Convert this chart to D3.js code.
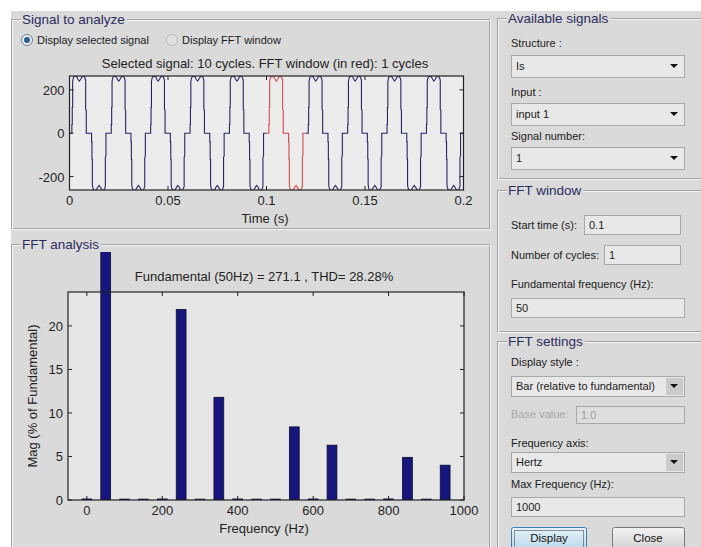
<!DOCTYPE html>
<meta charset="utf-8">
<script src="https://d3js.org/d3.v7.min.js"></script>
<style>
  body { margin: 0; background: #fff; }
  text { font-family: "Liberation Sans", Arial, sans-serif; }
</style>
<div id="gui"></div>
<script>

// ---- data ----
var timeTicks = [0, 0.05, 0.1, 0.15, 0.2]
var ampTicks = [-200, 0, 200]
var freqTicks = [0, 200, 400, 600, 800, 1000]
var magTicks = [0, 5, 10, 15, 20]

var nCycles = 10, period = 0.02
var winStart = 0.1, winCycles = 1

// one cycle of the signal: phase in ms and amplitude
var cyclePhase = [0, 1.2, 1.2, 1.4, 1.4, 1.6, 1.6, 1.8, 2.1, 2.6, 3.2, 3.8, 4.4, 5.0, 5.6, 6.2, 6.8, 7.3, 7.8, 8.1, 8.2, 8.2, 8.5, 8.5,
                  11.2, 11.2, 11.4, 11.4, 11.6, 11.6, 11.8, 12.1, 12.6, 13.2, 13.8, 14.4, 15.0, 15.6, 16.2, 16.8, 17.3, 17.8, 18.1, 18.2, 18.2, 18.5, 18.5, 20]
var cycleValue = [0, 0, 40, 40, 120, 120, 238, 250, 258, 263, 264, 258, 248, 241, 248, 258, 264, 263, 256, 248, 245, 110, 105, 0,
                  0, -40, -40, -120, -120, -238, -250, -258, -263, -264, -258, -248, -241, -248, -258, -264, -263, -256, -248, -245, -110, -105, 0, 0]

var harmFreq = [0, 50, 100, 150, 200, 250, 300, 350, 400, 450, 500, 550, 600, 650, 700, 750, 800, 850, 900, 950]
var harmMag = [0.12, 100, 0.1, 0.1, 0.12, 21.9, 0.1, 11.8, 0.12, 0.1, 0.1, 8.4, 0.12, 6.3, 0.1, 0.1, 0.12, 4.9, 0.1, 4.0]

var sigTitle = "Selected signal: 10 cycles. FFT window (in red): 1 cycles"
var fftTitle = "Fundamental (50Hz) = 271.1 , THD= 28.28%"

// ---- page ----
var svg = d3.select("#gui").append("svg")
    .attr("width", 701)
    .attr("height", 547)

var bg = "#dadada"
svg.append("rect").attr("x", 11).attr("y", 11).attr("width", 690).attr("height", 536).attr("fill", bg)

// etched panel with a title
function panel(x, y, w, h, title) {
  var g = svg.append("g")
  g.append("rect").attr("x", x + 0.5).attr("y", y + 0.5).attr("width", w).attr("height", h)
    .attr("fill", "none").attr("stroke", "#a3a3a3")
  g.append("rect").attr("x", x + 1.5).attr("y", y + 1.5).attr("width", w).attr("height", h)
    .attr("fill", "none").attr("stroke", "#f4f4f4")
  var t = g.append("text").attr("x", x + 11).attr("y", y + 5)
    .attr("font-size", 13.5).attr("fill", "#2c2c5c").text(title)
  var tw = t.node().getComputedTextLength()
  g.insert("rect", "text").attr("x", x + 10).attr("y", y - 3).attr("width", tw + 3).attr("height", 8).attr("fill", bg)
}

panel(11, 19, 478, 209, "Signal to analyze")
panel(11, 244, 478, 330, "FFT analysis")
panel(497, 18, 215, 160, "Available signals")
panel(497, 190, 215, 141, "FFT window")
panel(497, 341, 215, 230, "FFT settings")

// radio buttons
function radio(cx, cy, on, label) {
  svg.append("circle").attr("cx", cx).attr("cy", cy).attr("r", 5.5)
    .attr("fill", on ? "#e8eef4" : "#e2e2e2").attr("stroke", on ? "#6d7f93" : "#b8b8b8")
  if (on) svg.append("circle").attr("cx", cx).attr("cy", cy).attr("r", 3).attr("fill", "#2d5d8f")
  svg.append("text").attr("x", cx + 10).attr("y", cy + 4).attr("font-size", 11).attr("fill", "#1a1a1a").text(label)
}
radio(27, 40, true, "Display selected signal")
radio(172, 40, false, "Display FFT window")

// ---- signal plot ----
var m1 = {left: 69.5, right: 463.5, top: 76, bottom: 190}
var x1 = d3.scaleLinear().domain([0, 0.2]).range([m1.left, m1.right])
var y1 = d3.scaleLinear().domain([-262, 264]).range([m1.bottom, m1.top])

svg.append("rect").attr("x", m1.left).attr("y", m1.top)
  .attr("width", m1.right - m1.left).attr("height", m1.bottom - m1.top).attr("fill", "#ececec")

var pts = []
for (var k = 0; k < nCycles; k++) {
  for (var i = 0; i < cyclePhase.length; i++) {
    pts.push({t: k * period + cyclePhase[i] / 1000, v: cycleValue[i]})
  }
}
var winEnd = winStart + winCycles * period
var eps = 1e-9
var before = pts.filter(function(d) { return d.t <= winStart + eps })
var inside = pts.filter(function(d) { return d.t >= winStart - eps && d.t <= winEnd + eps })
var after = pts.filter(function(d) { return d.t >= winEnd - eps })

var line = d3.line().x(function(d) { return x1(d.t) }).y(function(d) { return y1(d.v) })

svg.append("clipPath").attr("id", "clip1").append("rect")
  .attr("x", m1.left).attr("y", m1.top).attr("width", m1.right - m1.left).attr("height", m1.bottom - m1.top)
var lines = svg.append("g").attr("clip-path", "url(#clip1)")
lines.append("path").attr("d", line(before)).attr("fill", "none").attr("stroke", "#262660").attr("stroke-width", 1.1)
lines.append("path").attr("d", line(after)).attr("fill", "none").attr("stroke", "#262660").attr("stroke-width", 1.1)
lines.append("path").attr("d", line(inside)).attr("fill", "none").attr("stroke", "#d24a4a").attr("stroke-width", 1.1)

// axes boxes with inward ticks, matlab style
function frame(m, xs, ys, xt, yt, xfmt) {
  var g = svg.append("g").attr("font-size", 13).attr("fill", "#222")
  g.append("rect").attr("x", m.left).attr("y", m.top).attr("width", m.right - m.left).attr("height", m.bottom - m.top)
    .attr("fill", "none").attr("stroke", "#222").attr("stroke-width", 1.2)
  var tl = 4
  xt.forEach(function(v) {
    var px = xs(v)
    g.append("line").attr("x1", px).attr("x2", px).attr("y1", m.bottom).attr("y2", m.bottom - tl).attr("stroke", "#222")
    g.append("line").attr("x1", px).attr("x2", px).attr("y1", m.top).attr("y2", m.top + tl).attr("stroke", "#222")
    g.append("text").attr("x", px).attr("y", m.bottom + 15).attr("text-anchor", "middle").text(xfmt(v))
  })
  yt.forEach(function(v) {
    var py = ys(v)
    g.append("line").attr("x1", m.left).attr("x2", m.left + tl).attr("y1", py).attr("y2", py).attr("stroke", "#222")
    g.append("line").attr("x1", m.right).attr("x2", m.right - tl).attr("y1", py).attr("y2", py).attr("stroke", "#222")
    g.append("text").attr("x", m.left - 5).attr("y", py + 5).attr("text-anchor", "end").text(v)
  })
}

frame(m1, x1, y1, timeTicks, ampTicks, function(v) { return String(v) })

svg.append("text").attr("x", 265).attr("y", 68).attr("text-anchor", "middle")
  .attr("font-size", 13).attr("fill", "#222").text(sigTitle)
svg.append("text").attr("x", 265).attr("y", 223).attr("text-anchor", "middle")
  .attr("font-size", 13).attr("fill", "#222").text("Time (s)")

// ---- FFT bar plot ----
var m2 = {left: 68, right: 464, top: 292, bottom: 500}
var x2 = d3.scaleLinear().domain([-50, 1000]).range([m2.left, m2.right])
var y2 = d3.scaleLinear().domain([0, 23.9]).range([m2.bottom, m2.top])

svg.append("rect").attr("x", m2.left).attr("y", m2.top)
  .attr("width", m2.right - m2.left).attr("height", m2.bottom - m2.top).attr("fill", "#e6e6e6")

// the fundamental overshoots the axes and is cut at the panel
svg.append("clipPath").attr("id", "clip2").append("rect")
  .attr("x", m2.left).attr("y", 252).attr("width", m2.right - m2.left).attr("height", m2.bottom - 252)

var bw = x2(13) - x2(-13)
svg.append("g").attr("clip-path", "url(#clip2)")
  .selectAll("rect")
  .data(harmFreq)
  .enter()
  .append("rect")
    .attr("x", function(d) { return x2(d) - bw / 2 })
    .attr("y", function(d, i) { return y2(harmMag[i]) })
    .attr("width", bw)
    .attr("height", function(d, i) { return y2(0) - y2(harmMag[i]) })
    .attr("fill", "#16167c")
    .attr("stroke", "#0a0a30")
    .attr("stroke-width", 0.8)

frame(m2, x2, y2, freqTicks, magTicks, function(v) { return String(v) })

svg.append("text").attr("x", 264).attr("y", 281).attr("text-anchor", "middle")
  .attr("font-size", 13).attr("fill", "#222").text(fftTitle)
svg.append("text").attr("x", 264).attr("y", 533).attr("text-anchor", "middle")
  .attr("font-size", 13).attr("fill", "#222").text("Frequency (Hz)")
svg.append("text").attr("transform", "translate(37,396) rotate(-90)").attr("text-anchor", "middle")
  .attr("font-size", 13).attr("fill", "#222").text("Mag (% of Fundamental)")

// ---- right hand controls ----
function label(x, y, s, col) {
  svg.append("text").attr("x", x).attr("y", y).attr("font-size", 11).attr("fill", col || "#1a1a1a").text(s)
}
function box(x, y, w, h, s, dis) {
  svg.append("rect").attr("x", x + 0.5).attr("y", y + 0.5).attr("width", w).attr("height", h)
    .attr("fill", dis ? "#dedede" : "#e8e8e8").attr("stroke", "#a9a9a9")
  svg.append("text").attr("x", x + 5).attr("y", y + h / 2 + 4).attr("font-size", 11)
    .attr("fill", dis ? "#a0a0a0" : "#1a1a1a").text(s)
}
function dropdown(x, y, w, h, s, grey) {
  box(x, y, w, h, s)
  if (grey) svg.append("rect").attr("x", x + w - 18).attr("y", y + 2).attr("width", 17).attr("height", h - 3).attr("fill", "#cacaca")
  var cx = x + w - 10, cy = y + h / 2
  svg.append("path").attr("d", "M" + (cx - 4) + "," + (cy - 2) + "L" + (cx + 4) + "," + (cy - 2) + "L" + cx + "," + (cy + 2) + "Z")
    .attr("fill", "#111")
}

label(511, 47, "Structure :")
dropdown(511, 55, 173, 22, "Is")
label(511, 96, "Input :")
dropdown(511, 103, 173, 22, "input 1")
label(511, 140, "Signal number:")
dropdown(511, 147, 173, 22, "1")

label(511, 229, "Start time (s):")
box(584, 215, 96, 19, "0.1")
label(511, 259, "Number of cycles:")
box(604, 245, 76, 19, "1")
label(511, 288, "Fundamental frequency (Hz):")
box(511, 298, 173, 19, "50")

label(511, 366, "Display style :")
dropdown(511, 376, 173, 20, "Bar (relative to fundamental)", true)
label(511, 418, "Base value:", "#a8a8a8")
box(576, 406, 108, 17, "1.0", true)
label(511, 447, "Frequency axis:")
dropdown(511, 452, 173, 20, "Hertz", true)
label(511, 488, "Max Frequency (Hz):")
box(511, 497, 173, 19, "1000")

// buttons
var grad = svg.append("defs").append("linearGradient").attr("id", "btn").attr("x1", 0).attr("x2", 0).attr("y1", 0).attr("y2", 1)
grad.append("stop").attr("offset", 0).attr("stop-color", "#f2f2f2")
grad.append("stop").attr("offset", 1).attr("stop-color", "#d0d0d0")
var grad2 = svg.select("defs").append("linearGradient").attr("id", "btn2").attr("x1", 0).attr("x2", 0).attr("y1", 0).attr("y2", 1)
grad2.append("stop").attr("offset", 0).attr("stop-color", "#e6f1f8")
grad2.append("stop").attr("offset", 1).attr("stop-color", "#b9d8ec")

svg.append("rect").attr("x", 511.5).attr("y", 527.5).attr("width", 75).attr("height", 24).attr("rx", 2)
  .attr("fill", "url(#btn2)").attr("stroke", "#3c7fb1")
svg.append("rect").attr("x", 514.5).attr("y", 530.5).attr("width", 69).attr("height", 18)
  .attr("fill", "none").attr("stroke", "#333").attr("stroke-dasharray", "1,1")
svg.append("text").attr("x", 549).attr("y", 542).attr("text-anchor", "middle").attr("font-size", 11.5).attr("fill", "#111").text("Display")

svg.append("rect").attr("x", 612.5).attr("y", 527.5).attr("width", 72).attr("height", 24).attr("rx", 2)
  .attr("fill", "url(#btn)").attr("stroke", "#7a7a7a")
svg.append("text").attr("x", 648).attr("y", 542).attr("text-anchor", "middle").attr("font-size", 11.5).attr("fill", "#111").text("Close")

</script>
